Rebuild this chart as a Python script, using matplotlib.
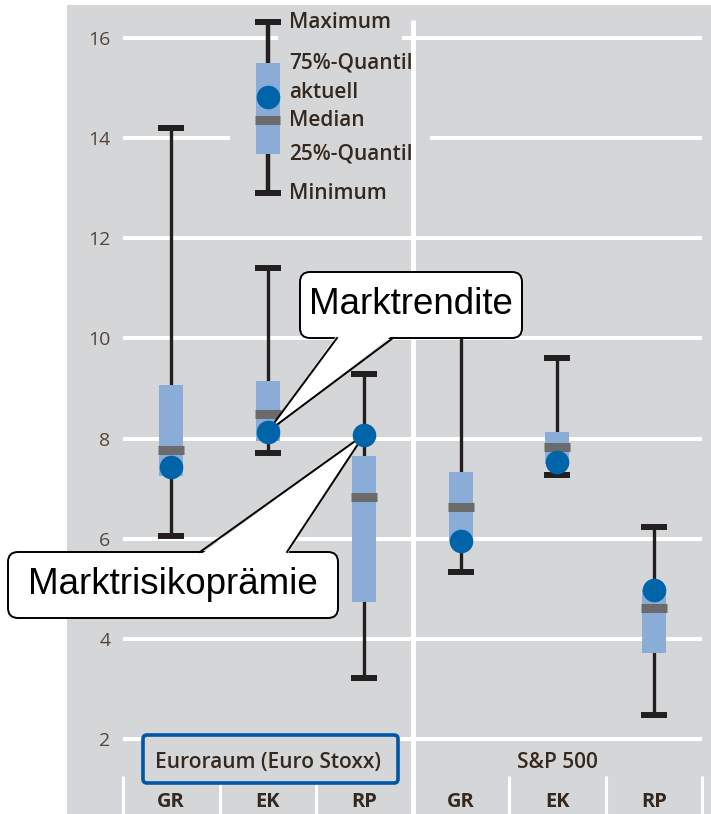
import numpy as np
import matplotlib.pyplot as plt
from matplotlib.patches import Rectangle, FancyBboxPatch, Polygon
from matplotlib.lines import Line2D

# Renditeverteilung in Prozent (GR = Gesamtrendite, EK = Eigenkapitalkosten, RP = Risikoprämie)
groups = ["Euroraum (Euro Stoxx)", "S&P 500"]
categories = ["GR", "EK", "RP", "GR", "EK", "RP"]
minimum = [6.05, 7.72, 3.22, 5.33, 7.27, 2.48]
q25 = [7.25, 7.95, 4.74, 5.95, 7.50, 3.72]
median = [7.78, 8.50, 6.84, 6.64, 7.84, 4.62]
q75 = [9.07, 9.15, 7.65, 7.33, 8.13, 5.00]
maximum = [14.2, 11.4, 9.30, 10.6, 9.60, 6.24]
current = [7.44, 8.14, 8.08, 5.95, 7.54, 4.97]

# Legende: Beispielbox
legend_labels = ["Maximum", "75%-Quantil", "aktuell", "Median", "25%-Quantil", "Minimum"]
legend_values = [16.32, 15.50, 14.82, 14.36, 13.68, 12.90]
yticks = [2, 4, 6, 8, 10, 12, 14, 16]

GRAY = "#d5d6d8"
BOX = "#8aacd6"
DOT = "#0064a8"
MED = "#6b6b6b"
WHISK = "#231f20"
TXT = "#35291f"

W, H = 711, 814
fig = plt.figure(figsize=(W / 100, H / 100), dpi=100)
fig.patches.append(Rectangle((67 / W, 0), 1 - 67 / W, 809 / H, transform=fig.transFigure,
                             fc=GRAY, ec="none", zorder=-1))
ax = fig.add_axes([123 / W, 0, (702 - 123) / W, 809 / H])
ax.set_zorder(1)
ax.set_facecolor("none")
ax.set_xlim(-0.5, 5.5)
ax.set_ylim(0.502, 16.66)
for s in ax.spines.values():
    s.set_visible(False)
ax.set_xticks([])
ax.set_yticks(yticks)
ax.set_yticklabels([str(t) for t in yticks], fontsize=14, color="#54463b", family="Open Sans")
ax.tick_params(axis="y", length=0, pad=9)

inch = fig.dpi_scale_trans

# Gitter und Trennlinien
ax.hlines(yticks, -0.5, 5.5, color="white", lw=2.9, zorder=1, clip_on=False)
ax.add_patch(Rectangle((0.61, 12.66), 2.07, 3.14, fc=GRAY, ec="none", zorder=1.5))
ax.add_patch(Rectangle((1.11, 15.84), 1.28, 0.32, fc=GRAY, ec="none", zorder=1.5))
ax.vlines(2.5, 0.502, 16.36, color="white", lw=3.6, zorder=1.8, clip_on=False)
ax.vlines([-0.5, 0.5, 1.5, 3.5, 4.5, 5.5], 0.502, 1.26, color="white", lw=2.2, zorder=1.8, clip_on=False)

# Boxplots
x = np.arange(len(categories))
ax.vlines(x, minimum, maximum, color=WHISK, lw=2.4, zorder=2)
ax.hlines(minimum, x - 0.135, x + 0.135, color=WHISK, lw=4.3, zorder=2)
ax.hlines(maximum, x - 0.135, x + 0.135, color=WHISK, lw=4.3, zorder=2)
ax.bar(x, np.subtract(q75, q25), bottom=q25, width=0.25, color=BOX, zorder=3)
ax.hlines(median, x - 0.135, x + 0.135, color=MED, lw=6.5, zorder=4)
ax.plot(x, current, "o", ms=17, color=DOT, mec="none", zorder=8)

# Legende
lx = 1.0
lmax, lq75, lcur, lmed, lq25, lmin = legend_values
ax.vlines(lx, lmin, lmax, color=WHISK, lw=3.2, zorder=3)
ax.hlines([lmin, lmax], lx - 0.135, lx + 0.135, color=WHISK, lw=4.3, zorder=3)
ax.bar(lx, lq75 - lq25, bottom=lq25, width=0.25, color=BOX, zorder=3)
ax.hlines(lmed, lx - 0.13, lx + 0.13, color=MED, lw=6.5, zorder=4)
ax.plot(lx, lcur, "o", ms=17, color=DOT, mec="none", zorder=8)
for lab, val in zip(legend_labels, legend_values):
    dy = 0.1 if lab == "aktuell" else 0
    ax.text(lx + 0.22, val + dy, lab, fontsize=15, color=TXT, family="Open Sans",
            fontweight="semibold", ha="left", va="center", zorder=9)

# Achsenbeschriftung unten
for gx, g in zip([1, 4], groups):
    ax.text(gx, 1.54, g, fontsize=15, color=TXT, family="Open Sans", fontweight="semibold",
            ha="center", va="center", zorder=6)
for cx, c in zip(x, categories):
    ax.text(cx, 0.74, c, fontsize=14.5, color=TXT, family="Open Sans", fontweight="bold",
            ha="center", va="center", zorder=6)
ax.add_patch(FancyBboxPatch((1.43, 0.31), 2.55, 0.48, boxstyle="round,pad=0,rounding_size=0.04",
                            transform=inch, fc=GRAY, ec="#0057a5", lw=2.6, zorder=5, clip_on=False))


def callout(text, box, base, tip_xy):
    x0, y0, w, h = box
    ax.add_patch(FancyBboxPatch((x0, y0), w, h, boxstyle="round,pad=0,rounding_size=0.1",
                                transform=inch, fc="white", ec="black", lw=1.4, zorder=6, clip_on=False))
    tip = inch.inverted().transform(ax.transData.transform(tip_xy))
    (bx1, by), (bx2, _) = base
    inset = 0.03 if by < y0 + h / 2 else -0.03
    ax.add_patch(Polygon([(bx1, by + inset), (bx2, by + inset), tip], closed=True, transform=inch,
                         fc="white", ec="none", zorder=7, clip_on=False))
    for bx in (bx1, bx2):
        ax.add_line(Line2D([bx, tip[0]], [by, tip[1]], transform=inch, color="black", lw=1.4,
                           zorder=7.5, clip_on=False))
    ax.text(x0 + w / 2, y0 + h / 2, text, transform=inch, ha="center", va="center",
            fontsize=26.5, family="Liberation Sans", zorder=9)


callout("Marktrendite", (3.00, 4.76, 2.22, 0.66), [(3.37, 4.76), (3.93, 4.76)], (x[1], current[1]))
callout("Marktrisikoprämie", (0.08, 1.96, 3.30, 0.66), [(2.00, 2.62), (2.87, 2.62)], (x[2], current[2]))

fig.savefig("out.png", dpi=100)
